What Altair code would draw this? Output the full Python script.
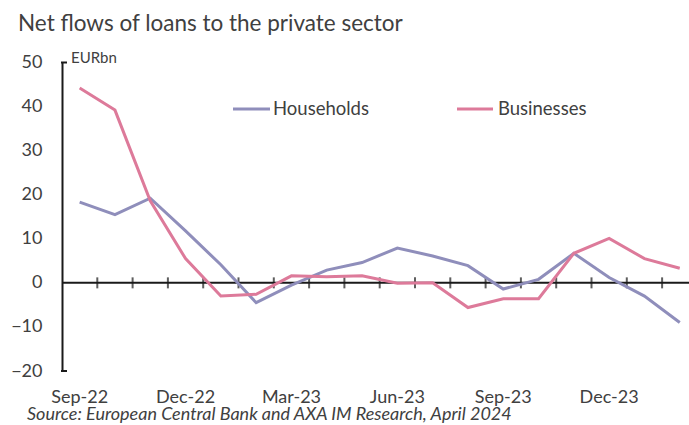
import altair as alt
import pandas as pd

months = ["Sep-22", "Oct-22", "Nov-22", "Dec-22", "Jan-23", "Feb-23", "Mar-23", "Apr-23",
          "May-23", "Jun-23", "Jul-23", "Aug-23", "Sep-23", "Oct-23", "Nov-23", "Dec-23",
          "Jan-24", "Feb-24"]
households = [18.3, 15.5, 19.2, 11.8, 4.1, -4.5, -0.5, 2.9, 4.6, 7.9, 6.1, 3.9, -1.4, 0.8,
              6.7, 1.2, -3.0, -9.0]
businesses = [44.2, 39.2, 18.6, 5.5, -3.0, -2.6, 1.6, 1.4, 1.6, -0.1, 0.0, -5.6, -3.6, -3.6,
              6.7, 10.1, 5.5, 3.3]
series_names = ["Households", "Businesses"]
series_colors = ["#8F8EBB", "#DD7A9A"]
label_months = ["Sep-22", "Dec-22", "Mar-23", "Jun-23", "Sep-23", "Dec-23"]
y_ticks = [-20, -10, 0, 10, 20, 30, 40, 50]

FONT = "Lato"
TXT = "#404040"
W, H = 627, 308.5
STEP = 35.3
RANGE = STEP * len(months)

df = pd.DataFrame({
    "month": months * 2,
    "value": households + businesses,
    "series": [series_names[0]] * len(months) + [series_names[1]] * len(months),
})

xscale = alt.Scale(type="point", domain=months, range=[0, RANGE], padding=0.5)
yscale = alt.Scale(domain=[-20, 50], nice=False, zero=False)
yaxis = alt.Axis(values=y_ticks, title=None, grid=False, ticks=False, tickSize=0,
                 domain=True, domainColor="#1a1a1a", domainWidth=2,
                 labelFont=FONT, labelFontSize=18, labelColor=TXT, labelPadding=20)

lines = alt.Chart(df).mark_line(strokeWidth=3).encode(
    x=alt.X("month:O", sort=months, scale=xscale, axis=None),
    y=alt.Y("value:Q", scale=yscale, axis=yaxis),
    color=alt.Color("series:N", scale=alt.Scale(domain=series_names, range=series_colors),
                    legend=None),
)

xlabels = alt.Chart(pd.DataFrame({"month": label_months})).mark_text(
    align="center", baseline="alphabetic", font=FONT, fontSize=18, color=TXT
).encode(x=alt.X("month:O", sort=months, axis=None), y=alt.value(340.5), text="month:N")

zero = alt.Chart(pd.DataFrame({"z": [0]})).mark_rule(color="#1a1a1a", strokeWidth=2).encode(
    x=alt.value(0), x2=alt.value(700), y=alt.Y("z:Q", scale=yscale, axis=yaxis)
)

ticks = alt.Chart(pd.DataFrame({"month": months[1:], "z": [0] * (len(months) - 1)})).mark_tick(
    orient="vertical", size=11, thickness=2, color="#1a1a1a", xOffset=-STEP / 2
).encode(x=alt.X("month:O", sort=months, axis=None), y=alt.Y("z:Q", scale=yscale, axis=yaxis))

caps = alt.Chart(pd.DataFrame({"c": [50, -20]})).mark_rule(color="#1a1a1a", strokeWidth=2).encode(
    x=alt.value(-1), x2=alt.value(5), y=alt.Y("c:Q", scale=yscale, axis=yaxis)
)

leg = pd.DataFrame({
    "name": series_names,
    "color": series_colors,
    "x1": [171, 395],
    "x2": [208, 431],
    "tx": [211, 436],
})
leg_lines = alt.Chart(leg).mark_rule(strokeWidth=3).encode(
    x=alt.X("x1:Q", scale=None), x2="x2:Q", y=alt.value(46.5),
    color=alt.Color("color:N", scale=None),
)
leg_text = alt.Chart(leg).mark_text(align="left", baseline="middle", font=FONT, fontSize=18.5,
                                    color=TXT).encode(
    x=alt.X("tx:Q", scale=None), y=alt.value(46.5), text="name:N"
)

eur = alt.Chart(pd.DataFrame({"t": ["EURbn"]})).mark_text(
    align="left", baseline="alphabetic", font=FONT, fontSize=15, color=TXT
).encode(x=alt.value(9), y=alt.value(0.5), text="t:N")

title = alt.Chart(pd.DataFrame({"t": ["Net flows of loans to the private sector"]})).mark_text(
    align="left", baseline="alphabetic", font=FONT, fontSize=22.5, color=TXT
).encode(x=alt.value(-44), y=alt.value(-32), text="t:N")

source = alt.Chart(pd.DataFrame({"t": ["Source: European Central Bank and AXA IM Research, April 2024"]})).mark_text(
    align="left", baseline="alphabetic", font=FONT, fontSize=18, fontStyle="italic", color=TXT
).encode(x=alt.value(-35), y=alt.value(357), text="t:N")

chart = alt.layer(zero, ticks, caps, lines, xlabels, leg_lines, leg_text, eur, title, source).properties(
    width=W, height=H,
    autosize=alt.AutoSizeParams(type="none"),
    padding={"left": 62, "top": 62.5, "right": 0, "bottom": 54},
    background="white",
).configure_view(stroke=None)

chart.save("out.html", embed_options={"renderer": "svg", "actions": False})
